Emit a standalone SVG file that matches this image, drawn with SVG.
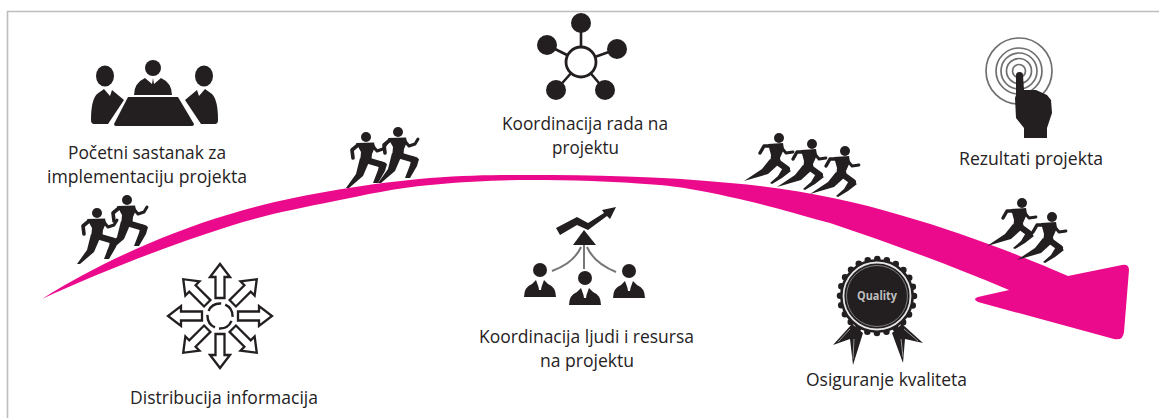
<svg xmlns="http://www.w3.org/2000/svg" xmlns:xlink="http://www.w3.org/1999/xlink" width="1159" height="418" viewBox="0 0 1159 418">
<style>
text{font-family:"Open Sans","Noto Sans","Liberation Sans",sans-serif;font-size:17.5px;fill:#252223}
.k{fill:#231f20}
.limb{fill:none;stroke:#231f20;stroke-linecap:round;stroke-linejoin:round}
.gr{fill:none;stroke:#777;stroke-width:2}
.rg{fill:none;stroke:#6f6f6f;stroke-width:1.7}
.ar{fill:#fff;stroke:#231f20;stroke-width:2.3;stroke-linejoin:miter}
</style>
<defs>
<g id="runUp">
<circle class="k" cx="0" cy="0" r="5"/>
<path class="k" d="M-10 6L8 5.500L9 10L6 17L5 27L-6 26L-5 15Z"/>
<path class="limb" stroke-width="3.600" d="M-8 8L-14 13L-13 21"/>
<path class="limb" stroke-width="3" d="M6 8L11 14L17 12L20 7"/>
<path class="limb" stroke-width="6.500" d="M0 23L17 28"/>
<path class="k" d="M14 24L21 27L19 34L12 46L7 46L12 33Z"/>
<path class="k" d="M-6 21L3 25L-3 39L-17 51L-20 51L-10 37Z"/>
</g>
<g id="runFlat">
<circle class="k" cx="0" cy="0" r="5"/>
<path class="k" d="M-11 6L4 5L5 11L1 20L2 27L-9 27L-8 17Z"/>
<path class="limb" stroke-width="3.400" d="M-9 8L-15 8L-19 15"/>
<path class="limb" stroke-width="2.800" d="M2 9L7 15L14 14"/>
<path class="limb" stroke-width="6" d="M-3 23L8 31"/>
<path class="k" d="M5 28L12 33L3 40L-7 46L-9 45L-1 38Z"/>
<path class="k" d="M-9 21L0 26L-11 36L-35 43L-17 31Z"/>
</g>
<path id="dirArrow" class="ar" d="M-4.500 -18L-4.500 -39L-10 -39L0 -52L10 -39L4.500 -39L4.500 -18Z"/>
<g id="person">
<circle class="k" cx="0" cy="-20" r="7"/>
<path class="k" d="M-16 7Q-16 -3 -8 -6L-4 -10L-1.500 -3L-1 0L1 0L1.500 -3L4 -10L8 -6Q16 -3 16 7Z"/>
</g>
</defs>

<rect width="1159" height="418" fill="#fff"/>
<path d="M1159 11.500H7.500V418" fill="none" stroke="#bdbdbd" stroke-width="1.600"/>

<g id="connectors">
<path id="sweep" fill="#ec0a8c" d="M42 299C100 262 170 232 227 215C280 198 360 184 430 178C470 175 500 175 530 175C590 175 660 176 730 183C790 188 850 200 900 215C960 232 1020 255 1068 276L1122 265Q1129 264 1129 270L1124 332Q1123 341 1114 339L978 302Q972 299 978 297L1009 290C950 265 890 243 830 223C790 212 760 203 730 197C700 190 680 187 660 185C610 181 570 180 530 180C500 180 470 181 430 185C395 188 365 195 335 201C295 209 260 216 227 227C165 247 100 272 42 299Z"/>
</g>

<g id="runners-1"><use xlink:href="#runUp" href="#runUp" x="97" y="213"/><use xlink:href="#runUp" href="#runUp" x="127" y="200"/></g>
<g id="runners-2"><use xlink:href="#runUp" href="#runUp" x="366" y="137"/><use xlink:href="#runUp" href="#runUp" x="398" y="132"/></g>
<g id="runners-3"><use xlink:href="#runFlat" href="#runFlat" x="779" y="138"/><use xlink:href="#runFlat" href="#runFlat" x="812" y="144"/><use xlink:href="#runFlat" href="#runFlat" x="845" y="151"/></g>
<g id="runners-4"><use xlink:href="#runFlat" href="#runFlat" x="1022" y="203"/><use xlink:href="#runFlat" href="#runFlat" x="1052" y="217"/></g>

<g id="node-sastanak">
<ellipse class="k" cx="105" cy="76" rx="9" ry="10.500"/>
<ellipse class="k" cx="204" cy="76" rx="9" ry="10.500"/>
<circle class="k" cx="153" cy="68" r="8"/>
<path class="k" d="M134 95Q134 83 145 78L152 84L153 78L154 84L161 78Q172 83 172 95Z"/>
<path class="k" d="M91 120Q91 100 97 94L104 89L110 96L112 90L124 100L108 124H94Q91 124 91 120Z"/>
<path class="k" d="M218 120Q218 100 212 94L205 89L199 96L197 90L185 100L201 124H215Q218 124 218 120Z"/>
<path class="k" d="M128 97H178L194 124Q194 126 192 126H116Q114 126 114 124Z"/>
<text x="147" y="159" text-anchor="middle" textLength="158" lengthAdjust="spacingAndGlyphs">Početni sastanak za</text>
<text x="147" y="183" text-anchor="middle" textLength="200" lengthAdjust="spacingAndGlyphs">implementaciju projekta</text>
</g>

<g id="node-distribucija">
<use xlink:href="#dirArrow" href="#dirArrow" transform="translate(220 316)"/>
<use xlink:href="#dirArrow" href="#dirArrow" transform="translate(220 316) rotate(45)"/>
<use xlink:href="#dirArrow" href="#dirArrow" transform="translate(220 316) rotate(90)"/>
<use xlink:href="#dirArrow" href="#dirArrow" transform="translate(220 316) rotate(135)"/>
<use xlink:href="#dirArrow" href="#dirArrow" transform="translate(220 316) rotate(180)"/>
<use xlink:href="#dirArrow" href="#dirArrow" transform="translate(220 316) rotate(225)"/>
<use xlink:href="#dirArrow" href="#dirArrow" transform="translate(220 316) rotate(270)"/>
<use xlink:href="#dirArrow" href="#dirArrow" transform="translate(220 316) rotate(315)"/>
<circle cx="220" cy="316" r="12.500" fill="none" stroke="#231f20" stroke-width="2.400" stroke-dasharray="15.500 4.130" stroke-dashoffset="-5"/>
<text x="224" y="404" text-anchor="middle" textLength="188" lengthAdjust="spacingAndGlyphs">Distribucija informacija</text>
</g>

<g id="node-koordinacija-rada">
<path d="M581 62L581 23M581 62L547 45M581 62L617 49M581 62L556 90M581 62L605 90" stroke="#231f20" stroke-width="2.600" fill="none"/>
<circle cx="581" cy="62" r="15" fill="#fff" stroke="#231f20" stroke-width="2.800"/>
<circle class="k" cx="581" cy="23" r="10"/>
<circle class="k" cx="547" cy="45" r="10"/>
<circle class="k" cx="617" cy="49" r="10"/>
<circle class="k" cx="556" cy="90" r="10"/>
<circle class="k" cx="605" cy="90" r="10"/>
<text x="585" y="130" text-anchor="middle" textLength="166" lengthAdjust="spacingAndGlyphs">Koordinacija rada na</text>
<text x="585.500" y="154" text-anchor="middle" textLength="67" lengthAdjust="spacingAndGlyphs">projektu</text>
</g>

<g id="node-koordinacija-ljudi">
<path class="k" d="M556 228L577 217L588 223L604 213L602 210L616 207L610 219L607 216L588 230L577 225L560 235Z"/>
<path class="k" d="M584 230L596 245H573Z"/>
<path class="gr" d="M584 245V269M581 247Q574 263 552 271M587 247Q594 263 616 272"/>
<use xlink:href="#person" href="#person" x="540" y="290"/>
<use xlink:href="#person" href="#person" x="585" y="298"/>
<use xlink:href="#person" href="#person" x="629" y="291"/>
<text x="586.500" y="343" text-anchor="middle" textLength="215" lengthAdjust="spacingAndGlyphs">Koordinacija ljudi i resursa</text>
<text x="587" y="367" text-anchor="middle" textLength="94" lengthAdjust="spacingAndGlyphs">na projektu</text>
</g>

<g id="node-kvalitet">
<path class="k" d="M852 324L833 345L850 339L853 365L863 333Z"/>
<path class="k" d="M902 324L923 343L905 339L903 363L892 333Z"/>
<path d="M850 329L838 342M854 339L853 359M904 329L918 341M901 339L903 357" stroke="#999" stroke-width="1" fill="none"/>
<circle cx="877" cy="296" r="37" fill="#231f20"/>
<circle cx="877" cy="296" r="37" fill="none" stroke="#231f20" stroke-width="6.500" stroke-linecap="round" stroke-dasharray="0 9.687"/>
<circle cx="877" cy="296" r="33.500" fill="none" stroke="#e6e6e6" stroke-width="1.800"/>
<circle cx="877" cy="296" r="30.500" fill="none" stroke="#8a8a8a" stroke-width="0.900"/>
<text x="877" y="300" text-anchor="middle" textLength="40" lengthAdjust="spacingAndGlyphs" style="font-size:11.500px;font-weight:700;fill:#bdbdbd">Quality</text>
<text x="886.500" y="386" text-anchor="middle" textLength="161" lengthAdjust="spacingAndGlyphs">Osiguranje kvaliteta</text>
</g>

<g id="node-rezultati">
<circle class="rg" cx="1019" cy="71" r="33"/>
<circle class="rg" cx="1019" cy="71" r="23"/>
<circle class="rg" cx="1019" cy="71" r="18"/>
<circle class="rg" cx="1019" cy="71" r="12.500"/>
<circle class="rg" cx="1019" cy="71" r="6.500"/>
<path class="k" d="M1016 75Q1016 72 1019.500 72Q1023 72 1023 75L1024 90L1036 90L1047 95L1051 100L1052 113L1047 128V138H1024V128L1016 118L1015 98L1016 95Z"/>
<text x="1031" y="165" text-anchor="middle" textLength="144" lengthAdjust="spacingAndGlyphs">Rezultati projekta</text>
</g>
</svg>
